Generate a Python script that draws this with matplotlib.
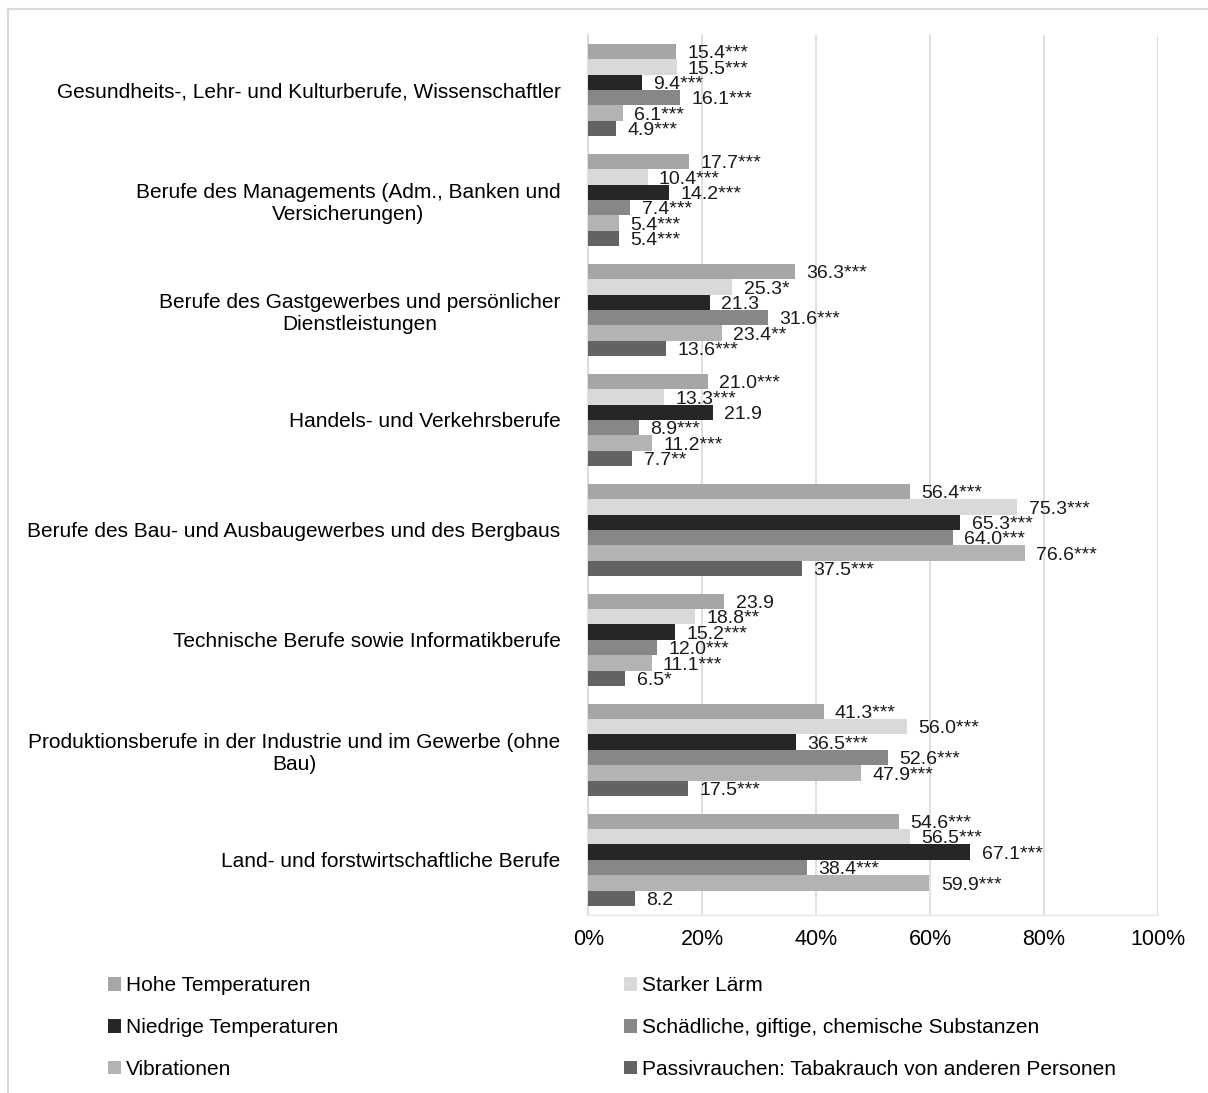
import matplotlib
matplotlib.use("Agg")
import matplotlib.pyplot as plt
import numpy as np
from matplotlib.lines import Line2D

plt.rcParams['font.family'] = ['Liberation Sans', 'DejaVu Sans']

# categories, top to bottom
categories = [
    "Gesundheits-, Lehr- und Kulturberufe, Wissenschaftler",
    "Berufe des Managements (Adm., Banken und\nVersicherungen)",
    "Berufe des Gastgewerbes und persönlicher\nDienstleistungen",
    "Handels- und Verkehrsberufe",
    "Berufe des Bau- und Ausbaugewerbes und des Bergbaus",
    "Technische Berufe sowie Informatikberufe",
    "Produktionsberufe in der Industrie und im Gewerbe (ohne\nBau)",
    "Land- und forstwirtschaftliche Berufe",
]

series_names = [
    "Hohe Temperaturen",
    "Starker Lärm",
    "Niedrige Temperaturen",
    "Schädliche, giftige, chemische Substanzen",
    "Vibrationen",
    "Passivrauchen: Tabakrauch von anderen Personen",
]
colors = ["#a6a6a6", "#d9d9d9", "#262626", "#878787", "#b3b3b3", "#636363"]

hohe_temp = [15.4, 17.7, 36.3, 21.0, 56.4, 23.9, 41.3, 54.6]
laerm = [15.5, 10.4, 25.3, 13.3, 75.3, 18.8, 56.0, 56.5]
niedrige_temp = [9.4, 14.2, 21.3, 21.9, 65.3, 15.2, 36.5, 67.1]
substanzen = [16.1, 7.4, 31.6, 8.9, 64.0, 12.0, 52.6, 38.4]
vibrationen = [6.1, 5.4, 23.4, 11.2, 76.6, 11.1, 47.9, 59.9]
passivrauch = [4.9, 5.4, 13.6, 7.7, 37.5, 6.5, 17.5, 8.2]

hohe_sig = ["***", "***", "***", "***", "***", "", "***", "***"]
laerm_sig = ["***", "***", "*", "***", "***", "**", "***", "***"]
niedrige_sig = ["***", "***", "", "", "***", "***", "***", "***"]
substanzen_sig = ["***", "***", "***", "***", "***", "***", "***", "***"]
vibrationen_sig = ["***", "***", "**", "***", "***", "***", "***", "***"]
passiv_sig = ["***", "***", "***", "**", "***", "*", "***", ""]

data = [hohe_temp, laerm, niedrige_temp, substanzen, vibrationen, passivrauch]
sigs = [hohe_sig, laerm_sig, niedrige_sig, substanzen_sig, vibrationen_sig, passiv_sig]

fig = plt.figure(figsize=(12.08, 10.93), dpi=100)
ax = fig.add_axes([0.487, 0.163, 0.4715, 0.805])

n = len(series_names)
bar_h = 0.14
y = np.arange(len(categories))

for i in range(n):
    offs = (i - (n - 1) / 2) * bar_h
    ax.barh(y + offs, data[i], height=bar_h, color=colors[i],
            label=series_names[i], zorder=3)
    for j, v in enumerate(data[i]):
        ax.text(v + 2.0, y[j] + offs + 0.02, f"{v:.1f}" + sigs[i][j],
                va='center', ha='left', fontsize=14, color='#1a1a1a', zorder=4)

ax.set_xlim(0, 100)
ax.set_ylim(len(categories) - 0.5, -0.5)
ax.set_xticks(np.arange(0, 101, 20))
ax.set_xticklabels([f"{t}%" for t in range(0, 101, 20)], fontsize=15.5)
ax.set_yticks(y)
ax.set_yticklabels(categories, fontsize=15, multialignment='center')
ax.tick_params(axis='y', length=0, pad=20)
ax.tick_params(axis='x', length=0, pad=10)
ax.grid(axis='x', color='#d9d9d9', linewidth=1.2, zorder=0)
for s in ['top', 'right']:
    ax.spines[s].set_visible(False)
ax.spines['left'].set_color('#d9d9d9')
ax.spines['left'].set_linewidth(1.2)
ax.spines['bottom'].set_color('#e6e6e6')
ax.spines['bottom'].set_linewidth(1.0)

# legend reads row-wise in the reference
handles, labels = ax.get_legend_handles_labels()
order = [0, 2, 4, 1, 3, 5]
fig.legend([handles[k] for k in order], [labels[k] for k in order],
           loc='upper left', bbox_to_anchor=(0.074, 0.124),
           ncol=2, frameon=False, fontsize=15, handlelength=0.62,
           handleheight=0.62, handletextpad=0.25, columnspacing=13.7,
           labelspacing=1.1)

# frame: only top and left edges are visible in the reference
fig.lines.append(Line2D([0.0066, 1.0], [0.9918, 0.9918], transform=fig.transFigure,
                        color='#d9d9d9', linewidth=1.5))
fig.lines.append(Line2D([0.0066, 0.0066], [0.0, 0.9918], transform=fig.transFigure,
                        color='#d9d9d9', linewidth=1.5))

plt.savefig("out.png", dpi=100)
